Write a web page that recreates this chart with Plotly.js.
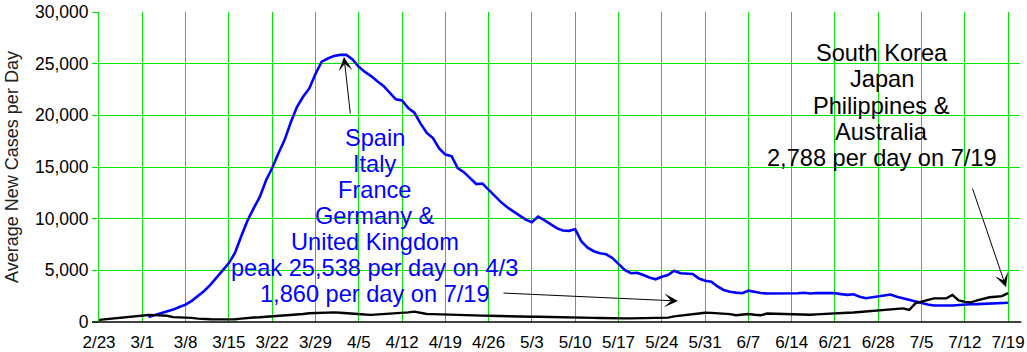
<!DOCTYPE html>
<html>
<head>
<meta charset="utf-8">
<script src="https://cdn.plot.ly/plotly-3.0.1.min.js"></script>
<style>
  html, body { margin: 0; padding: 0; background: #fff; }
  #chart { width: 1027px; height: 352px; }
</style>
</head>
<body>
<div id="chart"></div>
<script>
// ---- Data (daily 7-day averages, 2/23 .. 7/19, 2020) ----
const startDate = [2020, 1, 23]; // Feb 23, 2020 (month is 0-based)
const dayCount = 148;

const tickLabels = ['2/23','3/1','3/8','3/15','3/22','3/29','4/5','4/12','4/19','4/26',
  '5/3','5/10','5/17','5/24','5/31','6/7','6/14','6/21','6/28','7/5','7/12','7/19'];

// Spain, Italy, France, Germany & United Kingdom
const europe = [
  null, null, null, null, null, null, null, null,
  480, 650, 800, 980, 1200, 1450, 1680, 2050, 2500, 3000,
  3600, 4350, 5000, 5700, 6700, 8300, 9800, 11000, 12100, 13700,
  14900, 16300, 17600, 19300, 20800, 21800, 22600, 24000, 25200, 25500,
  25750, 25850, 25850, 25400, 24700, 24200, 23800, 23300, 22850, 22200,
  21550, 21450, 20700, 20250, 19200, 18300, 17800, 16800, 16200, 16050,
  14900, 14500, 13900, 13350, 13400, 12800, 12100, 11600, 11100, 10700,
  10300, 9900, 9650, 10200, 9850, 9450, 9080, 8850, 8820, 8970,
  7800, 7200, 6850, 6650, 6550, 6200, 5650, 5030, 4720, 4770,
  4550, 4300, 4130, 4380, 4550, 4960, 4720, 4680, 4650, 4200,
  4000, 3900, 3450, 3100, 2930, 2840, 2780, 3030, 2900, 2800,
  2760, 2750, 2780, 2740, 2720, 2780, 2830, 2760, 2800, 2800,
  2800, 2790, 2700, 2630, 2680, 2450, 2300, 2400, 2450, 2550,
  2660, 2450, 2290, 2180, 2000, 1870, 1700, 1590, 1580, 1580,
  1600, 1650, 1710, 1720, 1730, 1760, 1800, 1830, 1850, 1860
];

// South Korea, Japan, Philippines & Australia
const asiaPacific = [
  200, 260, 350, 420, 460, 540, 620, 680, 680, 670,
  670, 600, 470, 450, 450, 400, 330, 270, 260, 250,
  250, 250, 270, 330, 400, 430, 460, 500, 520, 560,
  620, 680, 720, 780, 840, 870, 900, 940, 930, 900,
  840, 840, 780, 720, 690, 720, 780, 830, 840, 860,
  930, 1000, 880, 780, 760, 750, 740, 720, 700, 680,
  670, 650, 620, 600, 580, 560, 540, 520, 520, 515,
  515, 515, 510, 500, 490, 470, 460, 455, 440, 420,
  400, 380, 360, 355, 355, 355, 355, 355, 355, 355,
  355, 360, 420, 540, 620, 720, 800, 870, 900, 880,
  860, 830, 760, 660, 720, 770, 700, 650, 820, 800,
  780, 775, 760, 700, 677, 700, 740, 775, 850, 900,
  900, 900, 920, 970, 1000, 1040, 1070, 1110, 1160, 1240,
  1320, 1160, 1800, 1970, 2150, 2290, 2290, 2300, 2610, 2100,
  1950, 1900, 2100, 2250, 2390, 2440, 2500, 2788
];

const europeText = ['Spain', 'Italy', 'France', 'Germany &', 'United Kingdom',
  'peak 25,538 per day on 4/3', '1,860 per day on 7/19'];
const asiaText = ['South Korea', 'Japan', 'Philippines &', 'Australia',
  '2,788 per day on 7/19'];

// ---- Build dates ----
function isoDay(i) {
  const d = new Date(Date.UTC(startDate[0], startDate[1], startDate[2] + i));
  return d.toISOString().slice(0, 10);
}
const dates = [];
for (let i = 0; i < dayCount; i++) dates.push(isoDay(i));
const tickVals = tickLabels.map((_, k) => isoDay(k * 7));

// ---- Layout geometry ----
const W = 1027, H = 352;
const M = { l: 99, r: 7, t: 12, b: 30 };
const PW = W - M.l - M.r, PH = H - M.t - M.b;
const px2x = px => (px - M.l) / PW;
const py2y = py => (M.t + PH - py) / PH;

const FONT = '"Liberation Sans", Arial, sans-serif';
const GREEN = '#00e800';
const annFont = 23.6;

const annotations = [];
europeText.forEach((t, k) => {
  const baseline = 146.7 + 26 * k;
  annotations.push({
    xref: 'paper', yref: 'paper', x: px2x(374.5), y: py2y(baseline - 0.35 * annFont),
    xanchor: 'center', yanchor: 'middle', showarrow: false, text: t,
    font: { family: FONT, size: annFont, color: '#0000ff' }
  });
});
asiaText.forEach((t, k) => {
  const baseline = 61.5 + 26.2 * k;
  annotations.push({
    xref: 'paper', yref: 'paper', x: px2x(881.5), y: py2y(baseline - 0.35 * annFont),
    xanchor: 'center', yanchor: 'middle', showarrow: false, text: t,
    font: { family: FONT, size: annFont, color: '#000000' }
  });
});
// arrows
const arrows = [
  { tip: [344, 57], tail: [350.5, 115] },
  { tip: [678, 301], tail: [502, 293] },
  { tip: [1006, 287], tail: [972, 187] }
];
arrows.forEach(a => {
  annotations.push({
    xref: 'paper', yref: 'paper', x: px2x(a.tip[0]), y: py2y(a.tip[1]),
    ax: a.tail[0] - a.tip[0], ay: a.tail[1] - a.tip[1],
    text: '', showarrow: true, arrowhead: 3, arrowsize: 2.3, arrowwidth: 1,
    arrowcolor: '#000000'
  });
});

const traces = [
  { x: dates, y: europe, type: 'scatter', mode: 'lines', name: 'Europe',
    line: { color: '#0000ff', width: 2.6 }, connectgaps: false, hoverinfo: 'skip' },
  { x: dates, y: asiaPacific, type: 'scatter', mode: 'lines', name: 'Asia-Pacific',
    line: { color: '#000000', width: 2.4 }, hoverinfo: 'skip' }
];

const layout = {
  width: W, height: H,
  margin: M,
  paper_bgcolor: '#ffffff', plot_bgcolor: '#ffffff',
  showlegend: false,
  font: { family: FONT, size: 17, color: '#000' },
  xaxis: {
    type: 'date',
    range: ['2020-02-23', '2020-07-20 22:00'],
    tickmode: 'array', tickvals: tickVals, ticktext: tickLabels,
    showgrid: true, gridcolor: GREEN, gridwidth: 1,
    ticks: 'outside', ticklen: 5, tickcolor: 'rgba(0,0,0,0)',
    showline: false, zeroline: false,
    tickfont: { family: FONT, size: 17, color: '#000' }
  },
  yaxis: {
    range: [0, 30000], dtick: 5000, tick0: 0, tickformat: ',d',
    showgrid: true, gridcolor: GREEN, gridwidth: 1,
    ticks: 'outside', ticklen: 6, tickcolor: GREEN, tickwidth: 1,
    showline: true, linecolor: GREEN, linewidth: 1, zeroline: false,
    tickfont: { family: FONT, size: 17.5, color: '#000' },
    title: { text: 'Average New Cases per Day', standoff: 11,
      font: { family: FONT, size: 18, color: '#222' } }
  },
  shapes: [
    { type: 'line', xref: 'paper', yref: 'paper', x0: px2x(92), x1: 1.0015, y0: 0, y1: 0,
      line: { color: '#000', width: 1.5 }, layer: 'above' }
  ],
  annotations: annotations
};

Plotly.newPlot('chart', traces, layout, { staticPlot: true, displayModeBar: false });
</script>
</body>
</html>
